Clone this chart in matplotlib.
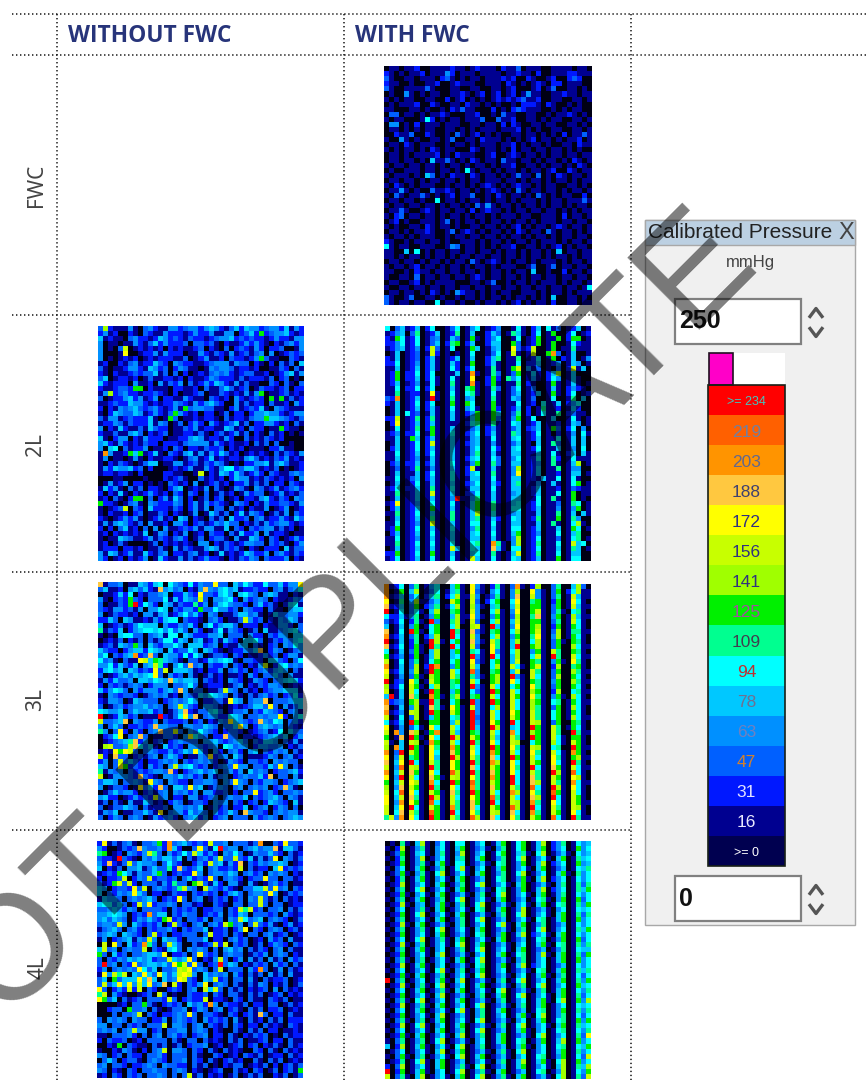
import matplotlib
matplotlib.use('Agg')
import matplotlib.pyplot as plt
import numpy as np
from matplotlib.colors import ListedColormap
from matplotlib.patches import Rectangle

# hex digit = pressure level read off the scale (0 = lowest, f = highest)
# rows are split in groups of 4 cells, 41 cells per row
fwc_with = [
"0110 1120 0111 1211 0121 1102 1130 1110 0111 1011 0",
"2101 0112 0111 4201 1101 1110 1121 1020 0111 2211 1",
"3100 1101 1102 3101 0110 1112 1200 2100 1200 2320 0",
"2110 0100 1120 0121 1100 1110 2101 0121 0220 1110 0",
"3100 1111 3100 0110 0110 0110 1200 0120 1300 1101 0",
"0100 4101 0110 0112 1012 0120 1201 4110 0112 1101 1",
"1010 1100 1100 2012 0101 0121 2123 1120 0110 0110 1",
"0101 1120 0210 0110 2110 1010 0102 2210 2100 1010 0",
"1100 0110 1001 0213 1100 0201 0232 1110 0101 0110 0",
"0330 1101 0112 1000 1120 0103 1100 1100 1011 2101 0",
"1011 0001 6201 0110 1113 0031 1200 1101 0110 0110 1",
"0440 1020 1110 1110 0110 1102 0210 0110 1100 1101 0",
"0110 1010 1100 1101 0101 1101 1120 1010 0110 0110 1",
"0021 1300 2100 1031 0120 1010 0110 1101 0102 0113 1",
"1004 1010 0110 1300 1102 1110 1010 1201 1010 1120 1",
"0110 2101 1100 1011 0101 1101 1201 0110 1001 1021 1",
"1010 1101 0210 1100 0210 1101 0201 1011 0110 1010 0",
"0110 1011 1120 1021 1100 1200 1210 1101 0110 1101 1",
"0110 1101 0511 3101 0210 1103 1101 1010 1101 0210 1",
"1011 0110 1101 0110 1011 0101 1200 1101 0110 1021 0",
"0100 1110 1101 1010 6101 1010 1101 0110 1200 2101 1",
"1011 1010 5301 0211 0210 1101 0131 1030 1021 0110 1",
"0110 1101 0110 1101 0110 1110 1101 0110 1011 0101 1",
"1021 0101 1100 1011 0101 2101 0121 1010 1100 1101 0",
"0114 1010 0311 2101 1010 1210 1031 0110 1101 0110 1",
"1031 0113 1010 1201 1300 1021 0110 1031 0101 1002 0",
"0110 1101 0060 1101 0110 1011 0101 1101 0110 1113 1",
"1011 0110 1101 0110 1031 4101 1010 1101 0110 1011 0",
"0113 1001 2101 1011 0201 2110 1011 0110 1101 0101 1",
"1023 0110 1101 0110 1011 0101 1101 1001 1102 0110 1",
"0120 1001 1101 3010 1101 0110 1011 0101 1101 1011 0",
"1010 0110 2101 1010 0110 1101 0120 1011 0121 0110 1",
"0110 1011 2100 1301 2101 0110 1021 0110 3101 1010 1",
"1011 0101 1100 1011 0110 1101 0110 1011 0101 1011 0",
"2100 1011 0110 1001 1101 0110 1011 0101 1101 0110 1",
"6101 1001 1100 1430 1101 0101 1200 1101 0120 1011 0",
"1100 5060 1011 0110 1101 1010 1101 0110 1050 1101 1",
"1101 0110 1011 0101 1011 0110 1101 0110 1011 0101 1",
"0110 1101 0110 1011 0310 1210 1011 0101 1101 0110 1",
"1011 0120 1101 0110 1011 0101 1100 1300 1301 1011 0",
"1100 1021 1011 0110 1101 0110 1011 0500 1002 0110 1",
"1001 1030 1101 1011 0121 0110 1101 0110 1101 1011 0",
"0110 0120 1011 1100 0110 1300 1011 0101 1101 0110 1",
"1001 1011 0110 1101 1011 0110 1101 1011 0110 1101 6",
"0110 1101 0210 1042 1101 0101 1001 1101 0110 1011 1",
"3100 1300 1101 0010 1101 0110 1011 0101 0500 1101 0",
"3101 1011 0060 1101 0010 1101 0120 1011 0200 1101 1",
]

l2_without = [
"3921 1141 0342 1144 2344 2454 2135 2544 2344 2514 2",
"2412 0021 0321 1422 2124 2241 1440 2352 8234 4521 2",
"5121 1034 2212 5423 2132 2123 4452 3232 2124 2214 4",
"4011 0114 2135 2422 2303 3231 0211 2424 2102 1342 4",
"4010 3a01 2121 2021 2112 3021 0302 3214 2022 3001 4",
"4000 1b00 1224 1422 2011 4213 2141 2313 4040 1232 3",
"4010 1212 0121 2221 1301 2411 2032 2124 8311 0032 1",
"1200 2134 1225 3204 3221 1234 4414 3302 1020 3130 5",
"3101 1244 2154 2302 4311 0143 4431 2212 0011 3203 1",
"2102 1123 2335 1303 0201 2134 3421 2331 1201 2451 4",
"3501 2212 0131 1221 2021 1243 2221 3122 2130 2301 0",
"5212 2204 1120 4132 4031 2425 4214 1311 0032 0310 3",
"2112 3328 8021 1102 2112 0311 3531 2301 3221 2302 2",
"1492 3422 1223 2102 0112 3011 3212 1414 8011 2312 1",
"3012 2452 4124 0221 1421 1032 1204 2123 2081 8131 2",
"1123 2254 4212 1224 3214 2453 2004 1312 2031 1204 2",
"2021 4345 3234 2124 1834 4331 1024 1232 5104 3211 1",
"1025 4335 4124 2138 4212 0220 1302 2024 4544 2124 4",
"3144 1232 2251 0183 0112 1221 0312 2134 4855 4321 3",
"1224 3132 2251 4301 3024 2042 1235 1302 2442 1203 1",
"4021 5211 3153 2201 1324 1221 1541 2032 2011 8211 0",
"2113 1145 3021 2301 1221 3102 3124 1302 1031 2010 1",
"5102 4402 1422 2011 2245 4122 1420 0312 1321 2000 0",
"4521 4212 1322 0222 1344 4414 2121 1203 1303 0010 0",
"4056 0312 2401 1203 2022 1322 3021 2011 1022 4110 0",
"1d41 1285 8125 1032 1451 4142 5312 0121 2103 1321 4",
"1401 1014 1021 1221 0134 1251 2122 1453 1213 2412 1",
"1021 3210 1355 0114 4123 1324 3101 0224 4514 5311 2",
"1425 4452 3020 0012 1241 1421 4662 3553 1213 0101 2",
"1221 2210 2000 0221 1001 a021 5425 3124 2032 1134 3",
"0001 1000 0100 0212 3100 3121 2025 4412 1321 2120 4",
"0141 2402 2010 1032 1204 0123 1202 2413 1302 2032 1",
"1524 1031 3022 1024 5012 1403 1014 3104 3124 1234 2",
"2021 5102 1242 1203 2032 0301 3120 1423 3012 4121 3",
"1203 1028 8030 2415 3020 1302 3012 0221 4521 3204 3",
"8221 0134 1043 2224 3024 1423 2104 3202 1422 3321 4",
"1012 3a03 2052 2213 2024 1403 3031 2021 1401 2401 2",
"1021 1202 3011 3202 1014 0153 1302 5143 2013 1403 2",
"2101 2424 1012 4120 5402 1031 3052 2303 4122 4215 3",
"1414 5421 3041 1204 4202 3124 3533 0213 1423 4421 2",
"2020 3512 0304 0411 2324 1441 1503 2032 3441 3120 1",
"1202 1212 1501 4302 1401 2032 2031 5224 0412 2101 1",
"1011 5431 1241 3213 4201 3023 3104 1154 2032 0124 2",
"1201 3100 0013 0212 1210 4402 1321 2443 3032 3102 4",
"1222 0221 2011 3104 1321 1454 1323 1021 0222 0513 3",
"4154 1241 1521 3402 2134 1201 5121 2542 2403 4213 2",
"4201 2021 2401 5211 4131 2422 1021 3243 0322 2402 1",
]

l2_with = [
"6035 1250 2600 1360 1460 1240 0161 0250 6130 1250 1",
"1245 0370 1250 1270 1500 2530 1751 0260 1800 2601 2",
"2186 1260 1340 1530 1810 2460 0160 1280 1180 2880 1",
"2246 1260 1350 2780 2500 2550 0830 1280 1800 1621 1",
"1245 1240 2a30 1600 1850 1450 0b31 2a00 1801 1711 1",
"0150 1230 1a20 1010 1600 1360 1a10 1a00 8d30 1500 1",
"2150 1230 2510 1250 1500 2570 1170 1260 1802 1501 4",
"2260 1240 2510 1520 1800 2510 1160 2250 1240 1540 1",
"1150 1250 2510 1620 2600 1710 18a0 4130 1030 2a15 0",
"1280 2260 2600 1150 1d10 1730 1380 1510 2590 1500 0",
"1280 2250 2610 1610 1b00 2820 7460 1410 2640 1510 0",
"1250 1240 1610 1710 1d10 2810 1170 2100 1810 1510 1",
"1160 2260 2600 1510 7810 1730 1360 1300 1510 2421 0",
"1170 1220 1b10 1610 6710 1610 1350 1250 1810 2601 2",
"32d0 1250 1f10 1710 4500 1710 1540 1300 1600 1705 0",
"2150 1260 2600 1810 8600 1810 1160 1206 1150 2460 0",
"0150 1250 2510 1610 4610 1820 1250 2017 1120 1520 0",
"0150 6230 1510 1510 2480 1850 1370 2016 1170 2311 0",
"22a0 1270 2710 1510 1580 1830 1480 1600 1500 1610 1",
"02b0 1250 2510 1110 2670 1710 1650 1250 1120 1540 1",
"0160 1270 2810 1510 1350 2410 1350 2350 1830 2604 0",
"1240 2260 1810 1610 2460 2510 1750 1260 1020 1406 1",
"1150 1850 2510 1510 1450 1610 1560 1250 1160 1505 0",
"0150 1260 2a10 1510 2450 1410 1350 1050 1730 1505 0",
"0250 1260 2510 1510 1460 1620 1560 1260 1150 1406 0",
"1160 1250 2610 1510 1470 1510 1550 1150 1610 2505 1",
"1150 1240 1510 1510 2560 1630 1460 1260 1720 1611 1",
"0240 2250 2510 1610 1480 1730 1550 1240 1710 1590 1",
"0130 1270 1410 1510 2a10 1510 1490 1250 1170 1440 0",
"0150 1150 2610 1610 2560 1710 14b0 1250 1120 1550 1",
"1160 1350 2510 1610 1550 1610 1550 1215 1160 1610 0",
"0150 1260 1510 1510 2460 1520 1570 1140 1510 1680 1",
"1260 2250 1710 1610 1550 1610 1550 1250 1120 1321 1",
"1170 1250 1a10 1510 2360 1510 1450 1250 1160 1801 1",
"0150 1250 1510 14f1 1470 1510 1550 1160 1710 1801 0",
"12b0 1240 1610 1610 1580 1710 1560 1260 1130 1760 1",
"0250 1250 1810 1510 1580 1710 1660 1250 1140 1480 1",
"1170 1260 1510 1710 1590 1610 1450 1150 1170 1505 1",
"0150 1250 1710 1710 1570 1520 1650 1270 1180 1740 0",
"1160 1240 1a10 1510 1660 1610 1550 1150 1710 1691 0",
"1280 1260 1510 1610 1470 1510 1660 1250 1150 1860 1",
"0250 1250 1610 1510 1560 1610 1580 1240 1160 1570 0",
"1160 1240 1510 1510 1550 1510 1490 1260 1130 1670 1",
"1170 1260 1610 1610 1670 1d71 0490 1270 1160 1a56 0",
"0150 1250 1510 1a50 1650 1c51 0660 1260 1150 1750 1",
"2280 1260 1810 1510 1560 1710 15a0 1270 1160 1550 0",
"1260 1250 1610 1610 1a50 1610 1650 1250 1180 1660 0",
]

l3_without = [
"c133 4011 5425 6064 3262 433b 3305 3642 2633 5244 b",
"3511 2045 3521 c453 4021 4c43 5645 1223 2203 4134 6",
"0112 5260 2133 4502 2532 b332 5640 5643 0454 1102 1",
"4102 3283 2033 3615 2543 a304 4562 0423 4302 1124 3",
"3011 328f 2642 0541 3227 2403 5643 3203 5231 0256 1",
"3214 4231 4044 6503 2442 8336 4423 0432 2031 1045 5",
"4013 2212 0441 4512 4635 2043 0113 5534 1015 3344 2",
"2253 0541 1214 2566 0322 1034 2011 3a42 3021 4354 1",
"5012 3124 6555 0422 4352 0462 4553 0222 0211 4420 3",
"7132 5024 5665 6463 5304 2013 6143 2013 0511 3456 3",
"1010 5663 3034 5166 0542 2244 5033 3042 2032 4405 5",
"0121 3021 3031 3662 5404 5124 1532 0556 3013 2435 6",
"1231 5438 4053 2446 4055 5234 0211 4503 1023 0436 4",
"5322 0245 5265 4052 3364 0542 1012 2435 c024 3013 4",
"4603 245d 23c3 0544 2626 4013 3203 2011 2423 0244 1",
"6341 0311 ba58 7543 1033 1254 5651 0332 2055 3203 6",
"4462 5325 045a 7204 63c3 4032 2403 2021 4a02 5634 3",
"2564 5054 232b 3a05 5541 2022 4034 2302 3424 5403 1",
"3012 4535 456b 3042 3041 0131 2011 2042 0335 3041 1",
"1425 3340 5546 54c5 4554 0321 2043 2014 3203 4565 2",
"2032 3134 3024 4403 3463 0122 2013 4021 3244 3012 1",
"5246 5304 2444 2453 c403 3011 3a43 0312 0234 4555 1",
"1043 2332 0134 3412 0432 5465 4303 1031 3423 0236 2",
"2144 3015 4333 0234 3464 0223 31b5 4034 4c03 3345 5",
"3013 4234 4534 3034 a532 0443 1012 1235 53b3 0413 5",
"6544 5035 4452 3013 5c21 3356 3013 3403 2543 2034 1",
"f012 5423 0111 f213 6b4c 0344 2265 4033 4344 b204 6",
"a334 5c04 3224 0322 2302 3021 43b5 4323 c436 5034 2",
"4035 3022 323c 4433 0443 3543 0335 b402 4543 4032 1",
"7403 b204 2034 c33a 3043 6432 0233 2012 3412 6053 3",
"0236 b034 c301 1332 04b6 4302 2c33 0221 2345 3502 4",
"0123 457c 2402 3023 4333 0445 3234 5303 2554 0314 1",
"09a3 349c 6351 0523 2044 3234 0653 4402 4433 4021 3",
"121b 8ba3 0343 2242 354b 5204 2034 2045 0324 3403 1",
"a20c 3302 3134 0354 2011 43b2 3405 3011 1243 0341 2",
"2403 a353 2022 3434 0323 4342 0143 2033 2304 3433 0",
"5403 b823 2042 304a 4563 2302 343b 4403 3253 b403 1",
"7143 4032 3234 43c2 0234 5345 0342 4053 4302 3345 2",
"a014 4432 c321 0443 5342 3041 3402 3433 52c0 3304 1",
"3554 0334 31b4 3043 2203 3443 043b 4303 2443 0234 5",
"4013 3201 b352 c305 53b4 5013 4303 4034 3402 3c41 0",
"0135 3442 0231 3404 3424 0442 2302 033b 2342 0334 3",
"4522 0124 232a 3402 2044 1234 0343 3503 2345 3043 1",
"1303 1041 1531 2024 3013 3204 3403 2023 0254 3205 1",
"3013 3543 0312 2304 4343 5014 2302 2502 3402 4303 0",
"1435 0113 3531 b034 4253 4304 2353 0c43 3203 4344 1",
"3024 3034 3014 2342 0345 2402 3403 3304 2343 0345 4",
]

l3_with = [
"d126 0370 1460 0581 0b41 0271 03d1 0290 0370 0593 0",
"d018 0590 1360 1571 0b31 0461 0490 0b41 0380 2691 1",
"d125 0360 2570 2691 1a40 1371 04c0 0a41 0370 1a51 1",
"b017 0491 1350 0a81 0a30 2680 06b0 0781 0280 1b61 0",
"c125 0380 2470 1691 0941 0570 05a0 0881 0380 1a51 1",
"f016 0361 0590 0781 0a40 0691 04b0 08a1 0371 0671 0",
"6225 1470 1480 0591 1b41 0481 0390 07c1 0480 1951 1",
"3126 0271 0f40 0791 0a30 0691 05a0 0881 0370 1a61 0",
"5015 0480 1680 0690 09a1 0f51 04b0 0891 0280 1861 0",
"c016 0f81 0680 0f71 0c31 0781 0690 08a1 0390 1771 1",
"d125 0370 2590 0f61 0a40 0691 0480 07b1 0490 1861 0",
"f015 0270 1f91 0681 0c41 0a71 0590 0691 0381 0871 0",
"c126 0281 0f70 0f61 0a30 0b71 05f0 0891 0380 0961 1",
"6015 0381 0590 0581 0761 0b41 0690 0481 0a70 0871 0",
"8124 0280 1590 0561 0f41 0f61 0590 06a1 0f70 0a61 1",
"a016 0370 1680 0681 0b31 0681 05a0 0871 0481 0b71 0",
"d015 0390 2fd0 0481 0a50 0691 0a61 08a1 0290 0781 0",
"b125 0490 1f80 0a61 0e40 0781 05a0 0a71 0380 0971 1",
"a014 0381 0980 0a71 0741 0891 0f41 0a61 0390 0861 0",
"f023 0b70 1a80 0781 0a60 0891 0b61 0871 0480 0971 1",
"9126 0a81 0690 0761 0f41 0a61 0681 0b71 0380 0861 0",
"a015 0a60 1f80 0581 0631 0f81 0a61 0981 0290 0671 1",
"5f15 0c70 0d81 0791 0781 0a61 0a81 0b71 0481 0961 0",
"d234 0891 1f70 0680 0f41 0f81 0a61 0981 0670 1861 1",
"c015 0490 1c71 0b81 0a41 0691 0a61 0971 0380 1961 0",
"d124 0a90 1f80 0a81 0f41 0a61 0b81 0a71 0680 1861 0",
"a016 0390 1580 0671 0f31 0a61 0a81 0a71 0680 1961 1",
"6125 0f80 0880 0591 0f41 0b81 0f61 0a91 0380 0871 0",
"b014 0361 0b60 0a61 0f51 0f91 0561 0f81 0a70 1861 0",
"a0d4 0c90 18d0 0951 0871 0a61 0d61 0981 0a70 0f71 1",
"801c 0f81 0b60 0f91 0a81 0951 0a71 0f81 0a61 0881 0",
"a105 0a90 1d80 0a61 0f71 0b61 0a90 0681 0961 0a81 0",
"90d5 0f81 0b70 0d81 0a61 0f81 0b71 0a91 0670 0f81 1",
"d03f 0a81 0b60 0c81 0b61 0d81 0a61 0b71 0a61 0d81 0",
"b04a 0781 0b50 0f91 0a71 0c61 0f81 0a61 0b71 0891 1",
"c05b 0f61 0a70 0b81 0f71 0d91 0b61 0a81 0b61 0f71 0",
"a04e 0a91 0f70 0b81 0c61 0a81 0b71 0f61 0c81 0a61 1",
"d05a 0c81 0b60 0e91 0f71 0c81 0b61 0a71 0f91 0e61 0",
"b04f 0a61 0c81 0a91 0b71 0d81 0f61 0c71 0a81 0b91 0",
"805a 0b91 0d60 0f81 0e71 0a81 0f61 0c91 0a71 0d61 1",
"904c 0a81 0f70 0b61 0d71 0c81 0a71 0e61 0f91 0b61 0",
"a06e 0b61 0a81 0c71 0f81 0a61 0d91 0b71 0e81 0a61 0",
"b05a 0c71 0f91 0a61 0b81 0e71 0a61 0c91 0f61 0a81 0",
"b04d 0b81 0e61 0a71 0c81 0f61 0a91 0d71 0b61 0a81 1",
"a05b 0f61 0a81 0d71 0c61 0a81 0e91 0f61 0a71 0a91 0",
"a06c 0a71 0e81 0f61 0b71 0a91 0c61 0d71 0a81 0b61 0",
"7a4d 0b61 0f81 0a71 0e91 0c61 0b71 0a81 0e61 0f71 1",
]

l4_without = [
"2b13 1341 0334 82d3 4532 32a3 3403 3313 d003 2b33 2",
"4200 1323 c433 42d5 2003 b316 f344 0345 344c 1553 1",
"7801 2043 24a7 3042 363a 5242 0436 3014 3353 2031 2",
"3221 f321 0435 3553 5031 3424 a33a 3251 413b 0431 3",
"42c2 13a3 5443 0363 2002 42a4 5142 c032 4344 5401 2",
"5021 3044 5135 3372 c323 5034 2232 a031 2205 b232 3",
"1232 8641 4335 8302 322b 4034 4354 0342 3043 4302 1",
"2022 3a02 43a2 3323 0352 32b3 0343 2023 3b33 0331 2",
"3128 a3a2 0333 1427 3308 a315 2044 1041 0134 2301 1",
"5402 332b 3a03 4323 7a43 0a43 2421 0335 5a3b 3403 2",
"5032 434b 5302 2013 2203 2323 0245 3034 43b4 0132 3",
"1544 3034 3453 0232 b303 4013 2302 3043 a313 0312 1",
"5663 5302 a4b2 3343 0331 2003 2103 3033 a303 3012 2",
"3345 4243 0333 3203 2323 0223 3032 a7a2 3033 4031 3",
"4456 5402 32d3 5503 2433 0232 4032 5403 3323 0421 2",
"4535 4302 4353 28a2 3033 2403 3043 a634 5034 3201 3",
"3443 a405 3232 402a 3203 4034 2a83 403a 3241 0241 2",
"1345 3034 2032 3342 0323 3502 2302 4b03 2034 3023 1",
"3454 0543 203a 2302 2333 03a2 2303 2033 0341 2301 2",
"1402 3451 43a4 0544 2033 3502 2034 2301 2042 3041 1",
"0a0b 3052 3d73 03a5 3003 123a 2a03 2301 3024 3203 2",
"5a34 0343 3a03 2156 3043 4303 0453 4031 3203 4031 1",
"8305 2303 3455 4b02 2303 b323 0343 3013 2403 4302 1",
"3032 4354 5452 33a5 45b3 0214 a302 4041 3041 3042 3",
"3f34 032b 3455 453b 8a3b 3023 f354 0213 2304 2303 1",
"2403 4343 b635 0334 a9b3 4303 a033 3042 d301 4031 2",
"1b4a 7a05 4b53 b535 aba4 0534 3404 2031 3041 3041 1",
"3508 3555 b5c5 0534 ba32 054a 2303 3041 0312 2301 2",
"3a35 b5b4 a5b3 4c0a 2032 4b03 4303 1031 4302 1301 3",
"b302 42a2 a032 0023 2034 0a5a 3031 3021 2304 0312 1",
"7a04 2100 1230 a301 0032 2303 2033 1031 3012 3021 2",
"b835 0312 3033 32a3 0232 2a02 2103 2031 1032 1301 1",
"0000 1203 3831 0232 3053 42d4 0322 1302 2033 0131 2",
"0023 3083 3403 1013 3402 4303 4023 1031 3022 3012 1",
"0003 0334 a032 0223 43b3 0332 1032 0231 c302 2031 1",
"3043 4304 3302 2403 4323 0423 2304 1031 2031 3022 2",
"4403 3032 3033 3a04 4303 4032 1303 2022 0312 1032 1",
"3434 034a 4402 3033 4403 4302 1003 1031 3022 0112 1",
"1103 3342 0303 4034 2302 3402 2031 0213 2301 0312 2",
"2032 2301 2033 3303 1033 0312 1031 3011 2302 2031 1",
"0021 8032 1103 1301 3023 3401 2012 3023 0213 1031 2",
"1002 1431 0203 4a04 4303 2031 0312 1003 2031 0312 1",
"4302 3032 2033 4203 3303 1003 2012 0321 3012 2031 2",
"0353 0233 1034 3203 3403 2031 0231 2003 1031 3012 1",
"3403 3202 2343 0433 2203 1301 0213 3012 1302 0231 3",
"4302 1032 0334 3303 4302 1012 3003 1203 2013 0231 8",
"1203 2032 3033 4303 03a1 3021 2013 0131 3002 1301 3",
]

l4_with = [
"0107 1059 1036 1066 0146 0158 0168 0159 0247 0164 5",
"1029 0147 1046 1058 0135 1047 0168 0158 0246 0184 6",
"0138 0156 1047 1049 0146 0168 0157 1069 0135 1064 5",
"1027 0149 0146 1057 0158 0147 0169 0146 1058 0175 6",
"0128 0147 1058 1066 0135 1067 0148 0159 0246 0184 5",
"1036 0158 0147 0169 1046 0158 0146 1058 0135 0165 7",
"0138 1047 1069 0146 1058 0147 0169 0146 0158 1074 6",
"1027 0158 1046 1058 0135 0167 0148 1059 0246 0164 6",
"0129 0146 1058 0147 0169 0146 1058 0135 1047 0173 7",
"1037 0169 0146 1058 0135 1067 0148 0159 0246 0175 8",
"0128 1046 1058 0135 1047 0169 0146 1058 0147 0164 6",
"1037 0158 0147 0169 0146 1058 0135 0167 1048 0183 6",
"0129 1045 0158 1047 0169 0135 1046 1058 0167 0174 8",
"1036 0147 1058 0146 1067 0158 0149 0135 1046 0165 6",
"0128 0169 0146 1058 0135 1047 0169 0146 1058 0173 7",
"1037 0146 1058 0147 0169 0135 0146 1067 0158 0184 6",
"0129 1058 0135 1047 0146 0169 1058 0147 0135 0164 6",
"1037 0147 1069 0146 1058 0135 1047 0169 0146 0175 8",
"0128 0146 1058 0135 1067 0148 0159 0246 1058 0164 6",
"1036 0169 0147 1058 0146 1058 0135 0167 0148 0183 6",
"0129 1047 0146 1069 0158 0135 1046 0158 1067 0174 7",
"1037 0158 1046 0147 0169 0146 1058 0135 0147 0165 5",
"0128 0146 1059 0135 1046 0158 0167 0149 1058 0173 8",
"1037 1047 0146 1058 0169 0135 1047 0146 0158 0184 6",
"0129 0158 1046 0135 1067 0148 0159 0246 0135 0164 6",
"1036 0146 1069 1047 0158 0146 0135 1067 0158 0175 7",
"0128 1058 0147 0146 1069 0135 1046 0158 1047 0163 6",
"f037 0146 0158 1059 0135 1047 0169 0146 0158 0174 8",
"0129 1047 1069 0146 0158 0135 1047 0169 0146 0185 6",
"1036 0158 0147 1058 0146 1069 0135 1047 0158 0164 7",
"0128 0146 1059 0135 1047 0158 0169 0146 1058 0173 6",
"1037 1069 0146 0158 0135 1047 0146 0158 1069 0184 9",
"0129 0147 1058 0146 0169 0135 1047 0158 0146 0165 6",
"1036 0158 0146 1069 1047 0158 0135 0167 0148 0174 7",
"0128 0146 1059 0135 1047 0146 0158 1069 0147 0163 6",
"1037 1047 0158 0146 1069 0135 1046 0158 0167 0184 8",
"0129 0169 1046 0158 0135 1047 0169 0146 1058 0175 6",
"1036 0146 1058 0147 0169 0135 0158 1046 0167 0164 7",
"0128 1058 0146 1059 0147 0158 0135 1069 0146 0173 b",
"1037 0147 0169 0135 1046 0158 0167 0148 0159 0184 6",
"5029 0158 1046 1069 0147 0135 0158 1046 0167 0165 8",
"0136 0146 1059 0158 0135 1047 1069 0146 0158 0174 6",
"1038 1047 0146 1069 0158 0135 1046 0167 0148 0163 a",
"0127 0169 1058 0135 0146 1047 0159 0158 1069 0184 6",
"2039 0146 1058 0147 1069 0135 0158 0146 1059 0175 9",
"f028 0158 1046 0169 0147 1058 0135 0167 0149 0164 8",
"a037 1059 0146 1058 0169 0147 1058 0135 1069 0173 a",
]

row_labels = ['FWC', '2L', '3L', '4L']
col_labels = ['WITHOUT FWC', 'WITH FWC']
scale_labels = ['>= 234', '219', '203', '188', '172', '156', '141', '125',
                '109', '94', '78', '63', '47', '31', '16', '>= 0']
scale_colors = ['#ff0000', '#ff6000', '#ff9400', '#ffc840', '#ffff00', '#c8ff00',
                '#a0ff00', '#00f000', '#00ff90', '#00ffff', '#00c8ff', '#0090ff',
                '#0060ff', '#0018ff', '#000090', '#000050']
label_colors = ['#40c8c0', '#7080a0', '#606890', '#404070', '#303080', '#303080',
                '#303080', '#a050a0', '#404050', '#c03030', '#707090', '#7080c0',
                '#d08030', '#e0e0ff', '#e8e8ff', '#ffffff']

heat = ListedColormap(['#000014'] + scale_colors[::-1][1:])


def grid(rows):
    rows = [r.replace(' ', '')[:41].ljust(41, '1') for r in rows]
    return np.array([[int(c, 16) for c in r] for r in rows])


fig = plt.figure(figsize=(8.68, 10.8), dpi=100)
ax = fig.add_axes([0, 0, 1, 1])

panels = [
    (fwc_with, 384, 592, 66, 305),
    (l2_without, 98, 304, 326, 561),
    (l2_with, 385, 591, 326, 561),
    (l3_without, 98, 303, 582, 820),
    (l3_with, 384, 591, 584, 820),
    (l4_without, 97, 303, 841, 1078),
    (l4_with, 385, 591, 841, 1079),
]
for rows, x0, x1, y0, y1 in panels:
    ax.imshow(grid(rows), extent=(x0, x1, y1, y0), aspect='auto', cmap=heat,
              vmin=0, vmax=15, interpolation='nearest', zorder=2)

# dotted table rules
dots = (0, (0.9, 1.72))
for y, x1 in [(14, 868), (55, 868), (315, 632), (572, 632), (830, 632)]:
    ax.plot([12, x1], [y, y], color='#111111', lw=1.1, ls=dots, zorder=1)
for x in [57, 344, 631]:
    ax.plot([x, x], [14, 1080], color='#111111', lw=1.1, ls=dots, zorder=1)

for lab, x in zip(col_labels, [68, 355]):
    ax.text(x, 36, lab, color='#27347a', fontsize=16.4, family='Open Sans',
            fontweight='bold', va='center', ha='left')
for lab, y, x in zip(row_labels, [185, 445, 700, 968], [36, 36, 36, 38]):
    ax.text(x, y, lab, color='#444444', fontsize=15, family='Noto Sans',
            rotation=90, va='center', ha='center')

# pressure scale window
ax.add_patch(Rectangle((645, 220), 210, 705, fc='#f0f0f0', ec='#a8a8a8', lw=1, zorder=3))
ax.add_patch(Rectangle((645, 220), 210, 25, fc='#bcd0e2', ec='#a8a8a8', lw=1, zorder=3))
ax.text(648, 233, 'Calibrated Pressure', fontsize=15, family='Liberation Sans',
        color='#222222', va='center', zorder=4)
ax.text(846, 233, 'X', fontsize=17, family='Liberation Sans', color='#444444',
        va='center', ha='center', zorder=4)
ax.text(750, 263, 'mmHg', fontsize=12, family='Liberation Sans',
        color='#444444', va='center', ha='center', zorder=4)

for y0, y1, val in [(299, 344, '250'), (876, 921, '0')]:
    mid = (y0 + y1) / 2
    ax.add_patch(Rectangle((675, y0), 126, y1 - y0, fc='white', ec='#808080', lw=1.6, zorder=4))
    ax.text(679, mid, val, fontsize=18, family='Liberation Sans',
            fontweight='bold', color='#111111', va='center', zorder=5)
    ax.plot([810, 816, 822], [mid - 5, mid - 13, mid - 5], color='#555555', lw=2.4, zorder=5)
    ax.plot([810, 816, 822], [mid + 7, mid + 15, mid + 7], color='#555555', lw=2.4, zorder=5)

ax.add_patch(Rectangle((733, 353), 52, 32, fc='white', ec='none', zorder=4))
ax.add_patch(Rectangle((709, 353), 24, 32, fc='#ff00c8', ec='#201020', lw=1.2, zorder=5))
ax.imshow(np.arange(16).reshape(-1, 1), extent=(708, 785, 866, 385), aspect='auto',
          cmap=ListedColormap(scale_colors), vmin=0, vmax=15, zorder=4)
ax.add_patch(Rectangle((708, 385), 77, 481, fc='none', ec='#182018', lw=1.2, zorder=5))
for i, (lab, col) in enumerate(zip(scale_labels, label_colors)):
    size = 9 if lab.startswith('>') else 12.5
    ax.text(746.5, 387 + 30.06 * (i + 0.5), lab, fontsize=size, color=col,
            family='Liberation Sans', va='center', ha='center', zorder=6)

# watermark, black at half opacity reads as #808080 on white
ax.text(762, 268, 'DO NOT DUPLICATE', fontsize=107, family='Liberation Sans', color='black',
        alpha=0.5, rotation=45, rotation_mode='anchor', ha='right', va='baseline', zorder=10)

ax.set_xlim(0, 868)
ax.set_ylim(1080, 0)
ax.axis('off')
fig.savefig('out.png', dpi=100, facecolor='white')
